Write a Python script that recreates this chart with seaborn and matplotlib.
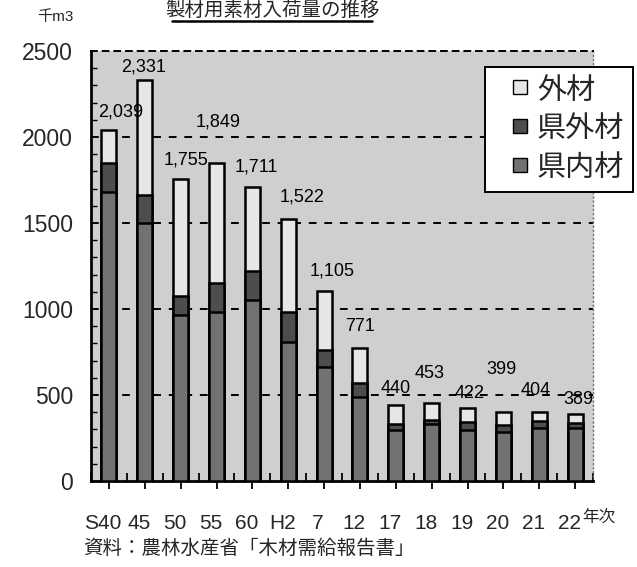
import matplotlib
matplotlib.use("Agg")
import matplotlib.pyplot as plt
import matplotlib.transforms as mtransforms
from matplotlib.patches import Patch, Rectangle
from matplotlib.legend_handler import HandlerPatch
from matplotlib.lines import Line2D
import seaborn as sns
import pandas as pd
import numpy as np

# ---- data ----
years = ["S40", "45", "50", "55", "60", "H2", "7", "12", "17", "18", "19", "20", "21", "22"]
totals = [2039, 2331, 1755, 1849, 1711, 1522, 1105, 771, 440, 453, 422, 399, 404, 389]
kennai = [1680, 1500, 965, 985, 1052, 810, 661, 490, 297, 331, 297, 287, 308, 306]   # 県内材
kengai = [170, 165, 110, 168, 171, 170, 101, 78, 32, 24, 48, 39, 43, 33]            # 県外材
gaizai = [t - a - b for t, a, b in zip(totals, kennai, kengai)]                      # 外材

# label offsets (pixels) relative to bar top centre
lab_dx = [12, -1, 5, 2, 4, 14, 8, 0, 0, -2, 2, -2, -4, 3]
lab_dy = [18, 13, 19, 41, 20, 22, 20, 22, 17, 30, 15, 43, 21, 15]

sns.set_theme(style="white")
plt.rcParams["font.family"] = ["Liberation Sans", "Noto Sans CJK JP", "DejaVu Sans"]

df = pd.DataFrame({"year": years, "kennai": kennai, "kengai": kengai, "gaizai": gaizai})
df["lvl2"] = df["kennai"] + df["kengai"]
df["lvl3"] = df["lvl2"] + df["gaizai"]

c_gai = "#e6e6e6"
c_kengai = "#4d4d4d"
c_kennai = "#727272"
bg = "#cfcfcf"

fig = plt.figure(figsize=(6.37, 5.67), dpi=100)
ax = fig.add_axes([91 / 637, 1 - 481 / 567, 502 / 637, 430 / 567])
ax.set_facecolor(bg)

for col, colr in [("lvl3", c_gai), ("lvl2", c_kengai), ("kennai", c_kennai)]:
    sns.barplot(data=df, x="year", y=col, order=years, color=colr, width=0.42,
                edgecolor="black", linewidth=1.8, saturation=1, ax=ax, zorder=3)

ax.set_ylim(0, 2500)
ax.set_xlim(-0.5, len(years) - 0.5)
ax.set_xlabel("")
ax.set_ylabel("")

# gridlines
for v in [500, 1000, 1500, 2000]:
    ax.axhline(v, color="black", lw=1.4, ls=(0, (4, 4)), zorder=1)

ax.set_yticks([0, 500, 1000, 1500, 2000, 2500])
ax.set_yticklabels(["0", "500", "1000", "1500", "2000", "2500"], fontsize=16.5)
ax.set_yticks(np.arange(0, 2501, 100), minor=True)
ax.tick_params(axis="y", which="major", direction="in", length=6, width=1.3, color="black", pad=13)
ax.tick_params(axis="y", which="minor", direction="in", length=4, width=1.0, color="black", left=True)
ax.set_xticks(range(len(years)))
ax.set_xticklabels(years, fontsize=15)
ax.set_xticks(np.arange(-0.5, len(years), 1.0), minor=True)
ax.tick_params(axis="x", which="major", direction="out", length=6, width=1.3, color="black", pad=18, bottom=True)
ax.tick_params(axis="x", which="minor", direction="in", length=6, width=1.3, color="black", bottom=True)
shift = mtransforms.ScaledTranslation(-6 / 100, 0, fig.dpi_scale_trans)
for lab in ax.get_xticklabels():
    lab.set_transform(lab.get_transform() + shift)

for s in ["left", "bottom"]:
    ax.spines[s].set_color("black")
    ax.spines[s].set_linewidth(2.0)
ax.spines["top"].set_color("black")
ax.spines["top"].set_linewidth(1.4)
ax.spines["top"].set_linestyle((0, (3, 3)))
ax.spines["right"].set_color("#777777")
ax.spines["right"].set_linewidth(1.0)
ax.spines["right"].set_linestyle((0, (1, 2)))

# value labels
for i, (t, dx, dy) in enumerate(zip(totals, lab_dx, lab_dy)):
    ax.annotate(f"{t:,}", xy=(i, t), xytext=(dx, dy), textcoords="offset pixels",
                ha="center", va="center", fontsize=13, color="black", zorder=5)


# legend with small square handles placed inside a wider handle box
def small_square(legend, orig_handle, xdescent, ydescent, width, height, fontsize):
    sq = 10.0
    return Rectangle((-xdescent + width - sq - 1.0, -ydescent + (height - sq) / 2 + 1.0), sq, sq)


handles = [Patch(facecolor=c_gai, edgecolor="black", lw=1.0, label="外材"),
           Patch(facecolor=c_kengai, edgecolor="black", lw=1.0, label="県外材"),
           Patch(facecolor=c_kennai, edgecolor="black", lw=1.0, label="県内材")]
leg = ax.legend(handles=handles, loc="upper right", bbox_to_anchor=(1.08, 0.963),
                frameon=True, fancybox=False, framealpha=1,
                edgecolor="black", facecolor="white", handlelength=1.2, handleheight=0.7,
                handletextpad=0.3, labelspacing=0.3, borderpad=0.3, borderaxespad=0,
                handler_map={Patch: HandlerPatch(patch_func=small_square)},
                prop={"family": ["Noto Sans CJK JP"], "size": 21})
leg.get_frame().set_linewidth(1.4)
leg.set_zorder(6)

# texts
fig.text(37 / 637, 1 - 17 / 567, "千m3", fontsize=11, ha="left", va="center")
fig.text(582 / 637, 1 - 517 / 567, "年次", fontsize=12, ha="left", va="center",
         family=["Noto Sans CJK JP"])
fig.text(83 / 637, 1 - 548 / 567, "資料：農林水産省「木材需給報告書」", fontsize=14,
         ha="left", va="center", family=["Noto Sans CJK JP"])
fig.text(272 / 637, 1 - 10 / 567, "製材用素材入荷量の推移", fontsize=14, ha="center",
         va="center", family=["Noto Sans CJK JP"])
fig.add_artist(Line2D([172 / 637, 372 / 637], [1 - 21 / 567, 1 - 21 / 567],
                      color="black", lw=1.8, transform=fig.transFigure))

fig.savefig("out.png", dpi=100)
